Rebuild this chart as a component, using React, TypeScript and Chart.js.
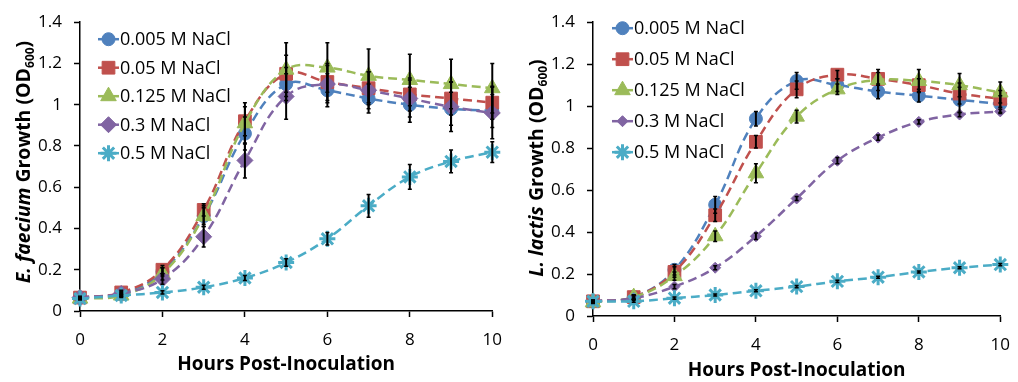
import React, { useEffect, useRef } from 'react';
import { Chart, registerables } from 'chart.js';
import { drawPoint } from 'chart.js/helpers';

Chart.register(...registerables);

// ---------- data ----------
const hours = [0, 1, 2, 3, 4, 5, 6, 7, 8, 9, 10];
const seriesLabels = ['0.005 M NaCl', '0.05 M NaCl', '0.125 M NaCl', '0.3 M NaCl', '0.5 M NaCl'];
const seriesColors = ['#4F81BD', '#C0504D', '#9BBB59', '#8064A2', '#4BACC6'];
const seriesStyles = ['circle', 'rect', 'triangle', 'rectRot', 'star'];
const xTicksStep = 2;
const yMin = 0;
const yMax = 1.4;
const yStep = 0.2;
const yTickLabels = ['0', '0.2', '0.4', '0.6', '0.8', '1', '1.2', '1.4'];

// E. faecium
const efBlue = [0.065, 0.08, 0.19, 0.46, 0.86, 1.10, 1.07, 1.03, 1.00, 0.98, 0.97];
const efRed = [0.065, 0.09, 0.20, 0.49, 0.92, 1.15, 1.11, 1.08, 1.05, 1.03, 1.01];
const efGreen = [0.06, 0.075, 0.18, 0.46, 0.91, 1.17, 1.18, 1.14, 1.12, 1.10, 1.08];
const efPurple = [0.065, 0.085, 0.155, 0.36, 0.73, 1.04, 1.10, 1.07, 1.03, 0.99, 0.96];
const efCyan = [0.06, 0.075, 0.09, 0.115, 0.16, 0.235, 0.35, 0.51, 0.65, 0.725, 0.77];
const efBlueErr = [0.005, 0.01, 0.02, 0.04, 0.08, 0.08, 0.08, 0.07, 0.085, 0.08, 0.08];
const efRedErr = [0.005, 0.01, 0.02, 0.03, 0.07, 0.09, 0.09, 0.08, 0.08, 0.08, 0.08];
const efGreenErr = [0.005, 0.01, 0.03, 0.05, 0.10, 0.13, 0.12, 0.13, 0.125, 0.12, 0.12];
const efPurpleErr = [0.005, 0.01, 0.025, 0.05, 0.085, 0.11, 0.09, 0.09, 0.09, 0.12, 0.125];
const efCyanErr = [0.005, 0.005, 0.008, 0.01, 0.012, 0.018, 0.03, 0.055, 0.06, 0.055, 0.05];

// L. lactis
const llBlue = [0.07, 0.09, 0.22, 0.53, 0.94, 1.12, 1.10, 1.07, 1.05, 1.03, 1.01];
const llRed = [0.07, 0.09, 0.21, 0.48, 0.83, 1.08, 1.15, 1.13, 1.10, 1.06, 1.035];
const llGreen = [0.065, 0.09, 0.19, 0.38, 0.68, 0.95, 1.08, 1.125, 1.12, 1.10, 1.065];
const llPurple = [0.07, 0.085, 0.14, 0.23, 0.38, 0.56, 0.74, 0.85, 0.925, 0.96, 0.975];
const llCyan = [0.07, 0.07, 0.085, 0.10, 0.12, 0.14, 0.165, 0.185, 0.21, 0.23, 0.245];
const llBlueErr = [0.005, 0.01, 0.025, 0.04, 0.035, 0.04, 0.03, 0.035, 0.03, 0.06, 0.04];
const llRedErr = [0.005, 0.01, 0.025, 0.03, 0.03, 0.04, 0.02, 0.03, 0.03, 0.05, 0.04];
const llGreenErr = [0.005, 0.01, 0.02, 0.025, 0.045, 0.03, 0.025, 0.05, 0.055, 0.055, 0.05];
const llPurpleErr = [0.005, 0.005, 0.01, 0.01, 0.015, 0.01, 0.015, 0.012, 0.01, 0.01, 0.01];
const llCyanErr = [0.005, 0.005, 0.005, 0.005, 0.005, 0.005, 0.005, 0.005, 0.005, 0.005, 0.005];

const xTitle = 'Hours Post-Inoculation';
const efTitleParts = [
  { text: 'E. faecium', italic: true },
  { text: ' Growth (OD' },
  { text: '600', sub: true },
  { text: ')' },
];
const llTitleParts = [
  { text: 'L. lactis', italic: true },
  { text: ' Growth (OD' },
  { text: '600', sub: true },
  { text: ')' },
];

const FONT = '"Open Sans", "Liberation Sans", sans-serif';

// ---------- plugins ----------
const errorBarPlugin = {
  id: 'errorBars',
  afterDatasetsDraw(chart: any) {
    const ctx = chart.ctx;
    const xs = chart.scales.x;
    const ys = chart.scales.y;
    ctx.save();
    ctx.strokeStyle = '#000';
    chart.data.datasets.forEach((ds: any) => {
      const errs: number[] = ds.errors || [];
      ds.data.forEach((p: any, i: number) => {
        const e = errs[i] || 0;
        const x = xs.getPixelForValue(p.x);
        const yt = ys.getPixelForValue(p.y + e);
        const yb = ys.getPixelForValue(p.y - e);
        ctx.lineWidth = 2;
        ctx.beginPath();
        ctx.moveTo(x, yt);
        ctx.lineTo(x, yb);
        ctx.stroke();
        ctx.lineWidth = 1.5;
        ctx.beginPath();
        ctx.moveTo(x - 2, yt);
        ctx.lineTo(x + 2, yt);
        ctx.moveTo(x - 2, yb);
        ctx.lineTo(x + 2, yb);
        ctx.stroke();
      });
    });
    ctx.restore();
  },
};

const inlineLegendPlugin = {
  id: 'inlineLegend',
  afterDraw(chart: any, _args: any, opts: any) {
    const ctx = chart.ctx;
    const area = chart.chartArea;
    ctx.save();
    chart.data.datasets.forEach((ds: any, i: number) => {
      const y = area.top + opts.top + i * opts.spacing;
      const x0 = area.left + opts.left;
      const x1 = x0 + opts.lineLength;
      ctx.strokeStyle = ds.borderColor;
      ctx.lineWidth = 2.5;
      ctx.setLineDash([]);
      ctx.beginPath();
      ctx.moveTo(x0, y);
      ctx.lineTo(x1, y);
      ctx.stroke();
      ctx.fillStyle = ds.pointBackgroundColor;
      ctx.strokeStyle = ds.pointBorderColor;
      ctx.lineWidth = ds.pointBorderWidth;
      drawPoint(ctx, {
        pointStyle: ds.pointStyle,
        radius: ds.pointRadius,
        rotation: 0,
        borderWidth: ds.pointBorderWidth,
      }, (x0 + x1) / 2, y);
      ctx.fillStyle = '#000';
      ctx.font = `${opts.fontSize}px ${FONT}`;
      ctx.textBaseline = 'middle';
      ctx.textAlign = 'left';
      ctx.fillText(ds.label, x1 + 1, y + 1);
    });
    ctx.restore();
  },
};

const yTitlePlugin = {
  id: 'richYTitle',
  afterDraw(chart: any, _args: any, opts: any) {
    const ctx = chart.ctx;
    const size = opts.size;
    const parts = opts.parts as any[];
    const fontFor = (p: any) =>
      `${p.italic ? 'italic ' : ''}bold ${p.sub ? Math.round(size * 0.62) : size}px ${FONT}`;
    let total = 0;
    const widths = parts.map((p) => {
      ctx.font = fontFor(p);
      const w = ctx.measureText(p.text).width;
      total += w;
      return w;
    });
    ctx.save();
    ctx.translate(opts.cx, opts.cy);
    ctx.rotate(-Math.PI / 2);
    ctx.fillStyle = '#000';
    ctx.textBaseline = 'alphabetic';
    ctx.textAlign = 'left';
    let x = -total / 2;
    const base = size * 0.36;
    parts.forEach((p, i) => {
      ctx.font = fontFor(p);
      ctx.fillText(p.text, x, p.sub ? base + size * 0.22 : base);
      x += widths[i];
    });
    ctx.restore();
  },
};

// ---------- panel ----------
type PanelCfg = {
  width: number;
  series: number[][];
  errors: number[][];
  radii: number[];
  area: { left: number; right: number; top: number; bottom: number };
  titleParts: any[];
  titleCx: number;
  titleCy: number;
  xTitlePadBottom: number;
  legend: { left: number; top: number; spacing: number; lineLength: number; fontSize: number };
};

const HEIGHT = 382;

function Panel({ cfg }: { cfg: PanelCfg }) {
  const ref = useRef<HTMLCanvasElement>(null);
  useEffect(() => {
    const canvas = ref.current;
    if (!canvas) return;
    const datasets = cfg.series.map((vals, i) => ({
      label: seriesLabels[i],
      data: hours.map((h, j) => ({ x: h, y: vals[j] })),
      errors: cfg.errors[i],
      borderColor: seriesColors[i],
      backgroundColor: seriesColors[i],
      borderWidth: 2.5,
      borderDash: [9, 5],
      tension: 0.4,
      fill: false,
      pointStyle: seriesStyles[i],
      pointRadius: cfg.radii[i],
      pointHoverRadius: cfg.radii[i],
      pointBackgroundColor: seriesColors[i],
      pointBorderColor: seriesColors[i],
      pointBorderWidth: seriesStyles[i] === 'star' ? 3 : 1,
      order: 4 - i,
      clip: false,
    }));
    const chart = new Chart(canvas, {
      type: 'line',
      data: { datasets: datasets as any },
      plugins: [errorBarPlugin, inlineLegendPlugin, yTitlePlugin],
      options: {
        responsive: false,
        animation: false,
        devicePixelRatio: 1,
        layout: {
          padding: { left: 0, top: cfg.area.top, right: cfg.width - cfg.area.right, bottom: 0 },
        },
        plugins: {
          legend: { display: false },
          tooltip: { enabled: false },
          inlineLegend: cfg.legend,
          richYTitle: { parts: cfg.titleParts, cx: cfg.titleCx, cy: cfg.titleCy, size: 19.5 },
        } as any,
        scales: {
          x: {
            type: 'linear',
            min: 0,
            max: 10,
            afterFit: (s: any) => {
              s.height = HEIGHT - cfg.area.bottom;
            },
            ticks: {
              stepSize: xTicksStep,
              color: '#000',
              font: { family: FONT, size: 17, lineHeight: 1.8 },
              padding: 8,
              maxRotation: 0,
            },
            grid: { drawOnChartArea: false, drawTicks: true, tickLength: 6, tickColor: '#000', tickWidth: 1.5 },
            border: { display: true, color: '#000', width: 1.5 },
            title: {
              display: true,
              text: xTitle,
              color: '#000',
              font: { family: FONT, size: 19, weight: 'bold' },
              padding: { top: 0, bottom: cfg.xTitlePadBottom },
            },
          },
          y: {
            type: 'linear',
            min: yMin,
            max: yMax,
            afterFit: (s: any) => {
              s.width = cfg.area.left;
            },
            ticks: {
              stepSize: yStep,
              color: '#000',
              font: { family: FONT, size: 17 },
              padding: 12,
              callback: (_v: any, idx: number) => yTickLabels[idx],
            },
            grid: { drawOnChartArea: false, drawTicks: true, tickLength: 6, tickColor: '#000', tickWidth: 1.5 },
            border: { display: true, color: '#000', width: 1.5 },
          },
        },
      } as any,
    });
    return () => chart.destroy();
  }, [cfg]);
  return (
    <div style={{ width: cfg.width, height: HEIGHT, position: 'relative' }}>
      <canvas ref={ref} width={cfg.width} height={HEIGHT} style={{ display: 'block' }} />
    </div>
  );
}

const leftCfg: PanelCfg = {
  width: 510,
  series: [efBlue, efRed, efGreen, efPurple, efCyan],
  errors: [efBlueErr, efRedErr, efGreenErr, efPurpleErr, efCyanErr],
  radii: [6.5, 9, 9, 8, 8],
  area: { left: 80, right: 497, top: 13, bottom: 311 },
  titleParts: efTitleParts,
  titleCx: 23,
  titleCy: 162,
  xTitlePadBottom: 6,
  legend: { left: 18, top: 17, spacing: 28.5, lineLength: 21, fontSize: 18 },
};

const rightCfg: PanelCfg = {
  width: 508,
  series: [llBlue, llRed, llGreen, llPurple, llCyan],
  errors: [llBlueErr, llRedErr, llGreenErr, llPurpleErr, llCyanErr],
  radii: [6.5, 9, 9, 5.5, 8],
  area: { left: 83, right: 496, top: 19, bottom: 316 },
  titleParts: llTitleParts,
  titleCx: 26,
  titleCy: 168,
  xTitlePadBottom: 0,
  legend: { left: 19, top: 6, spacing: 31, lineLength: 21, fontSize: 18 },
};

export default function App() {
  return (
    <div style={{ position: 'absolute', left: 0, top: 0, width: 1018, height: HEIGHT, display: 'flex', background: '#fff' }}>
      <Panel cfg={leftCfg} />
      <Panel cfg={rightCfg} />
    </div>
  );
}
